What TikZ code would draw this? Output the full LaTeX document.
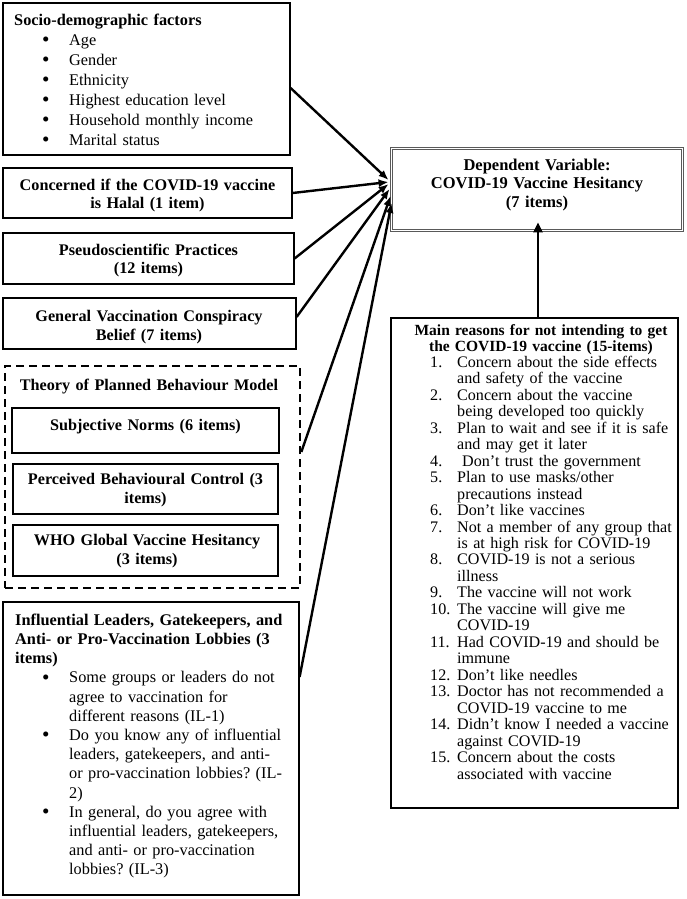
\documentclass[tikz,border=0pt]{standalone}
\usepackage{fontspec}
\usepackage{graphicx}
\setmainfont{Liberation Serif}
\usetikzlibrary{arrows.meta,calc}
\lineskiplimit=-30pt
\frenchspacing
\newcommand\fst{\rule{0pt}{13pt}}
\newcommand\bdot{\raisebox{-1.4pt}{\scalebox{1.3}{•}}}
\newcommand\bl{\makebox[55pt][l]{\hspace{28pt}\bdot}}
\newcommand\bli{\makebox[54pt][l]{\hspace{27pt}\bdot}}
\newcommand\blc{\makebox[54pt][l]{}}
\newcommand\nm[1]{\makebox[27pt][l]{#1}}
\newcommand\nc{\makebox[27pt][l]{}}
\begin{document}
\begin{tikzpicture}[x=1pt,y=-1pt,
 box/.style={draw, line width=1.2pt, inner sep=0pt},
 ctxt/.style={inner sep=0pt, anchor=north, align=center, text width=290pt},
 ltxt/.style={inner sep=0pt, anchor=north west, align=left, text width=285pt},
 link/.style={line width=2.4pt, -{Latex[length=10pt,width=8pt]}},
]
\useasboundingbox[fill=white] (0,0) rectangle (686,899);

% boxes
\node[box, minimum width=287pt, minimum height=152pt] (socio) at (146.5,79) {};
\node[box, minimum width=289pt, minimum height=50pt] (halal) at (147.5,193) {};
\node[box, minimum width=291pt, minimum height=51pt] (pseudo) at (148.5,258.5) {};
\node[box, minimum width=293pt, minimum height=51pt] (general) at (149.5,323.5) {};
\node[draw, line width=2.6pt, dash pattern=on 8pt off 5pt, inner sep=0pt, minimum width=295pt, minimum height=222pt] (tpb) at (152.5,477) {};
\node[box, minimum width=267pt, minimum height=45pt] (subj) at (145.5,430.5) {};
\node[box, minimum width=265pt, minimum height=50pt] (perc) at (145.5,489) {};
\node[box, minimum width=265pt, minimum height=51pt] (who) at (145.5,550.5) {};
\node[box, minimum width=296pt, minimum height=293pt] (infl) at (151,748.5) {};
\node[box, minimum width=287pt, minimum height=490pt] (main) at (534.5,563) {};
\node[draw=black!65, line width=0.9pt, double=white, double distance=1.4pt, inner sep=0pt, minimum width=291pt, minimum height=82pt] (dep) at (537,189.5) {};

% texts
\node[ltxt, font=\fontsize{16.3}{20}\selectfont] (sociot) at (14,12) {\fst\textbf{Socio-demographic factors}\\
\bl Age\\ \bl Gender\\ \bl Ethnicity\\ \bl Highest education level\\ \bl Household monthly income\\ \bl Marital status};
\node[ctxt, font=\fontsize{16.2}{18}\selectfont\bfseries] (halalt) at (147.5,177) {\fst Concerned if the COVID-19 vaccine\\ is Halal (1 item)};
\node[ctxt, font=\fontsize{16.2}{18}\selectfont\bfseries] (pseudot) at (148.5,242) {\fst Pseudoscientific Practices\\ (12 items)};
\node[ctxt, font=\fontsize{16.2}{19}\selectfont\bfseries] (generalt) at (149,308) {\fst General Vaccination Conspiracy\\ Belief (7 items)};
\node[ctxt, font=\fontsize{16.2}{19}\selectfont\bfseries] (tpbt) at (149,377) {\fst Theory of Planned Behaviour Model};
\node[ctxt, font=\fontsize{16.2}{19}\selectfont\bfseries] (subjt) at (145.5,417) {\fst Subjective Norms (6 items)};
\node[ctxt, font=\fontsize{16.2}{19}\selectfont\bfseries] (perct) at (145.5,471) {\fst Perceived Behavioural Control (3\\ items)};
\node[ctxt, font=\fontsize{16.2}{19}\selectfont\bfseries] (whot) at (147,532) {\fst WHO Global Vaccine Hesitancy\\ (3 items)};
\node[ltxt, font=\fontsize{16.3}{19.2}\selectfont] (inflt) at (15,612) {\fst\textbf{Influential Leaders, Gatekeepers, and}\\
\textbf{Anti- or Pro-Vaccination Lobbies (3}\\ \textbf{items)}\\
\bli Some groups or leaders do not\\ \blc agree to vaccination for\\ \blc different reasons (IL-1)\\
\bli Do you know any of influential\\ \blc leaders, gatekeepers, and anti-\\ \blc or pro-vaccination lobbies? (IL-\\ \blc 2)\\
\bli In general, do you agree with\\ \blc influential leaders, gatekeepers,\\ \blc and anti- or pro-vaccination\\ \blc lobbies? (IL-3)};
\node[ctxt, font=\fontsize{16.5}{18.5}\selectfont\bfseries] (dept) at (537,157) {\fst Dependent Variable:\\ COVID-19 Vaccine Hesitancy\\ (7 items)};
\node[ctxt, font=\fontsize{15.5}{16.5}\selectfont\bfseries] (maint) at (541,322) {\fst Main reasons for not intending to get\\ the COVID-19 vaccine (15-items)};
\node[ltxt, text width=250pt, font=\fontsize{16.1}{16.48}\selectfont] (mainl) at (430,354) {\fst
\nm{1.}Concern about the side effects\\ \nc and safety of the vaccine\\
\nm{2.}Concern about the vaccine\\ \nc being developed too quickly\\
\nm{3.}Plan to wait and see if it is safe\\ \nc and may get it later\\
\nm{4.}\hspace*{5pt}Don’t trust the government\\
\nm{5.}Plan to use masks/other\\ \nc precautions instead\\
\nm{6.}Don’t like vaccines\\
\nm{7.}Not a member of any group that\\ \nc is at high risk for COVID-19\\
\nm{8.}COVID-19 is not a serious\\ \nc illness\\
\nm{9.}The vaccine will not work\\
\nm{10.}The vaccine will give me\\ \nc COVID-19\\
\nm{11.}Had COVID-19 and should be\\ \nc immune\\
\nm{12.}Don’t like needles\\
\nm{13.}Doctor has not recommended a\\ \nc COVID-19 vaccine to me\\
\nm{14.}Didn’t know I needed a vaccine\\ \nc against COVID-19\\
\nm{15.}Concern about the costs\\ \nc associated with vaccine};

% connectors
\draw[link] ($(socio.east)+(0,9)$) -- ($(dep.west)+(-2.5,-9.5)$);
\draw[link] (halal.east) -- ($(dep.west)+(-2.5,-7.5)$);
\draw[link] (pseudo.east) -- ($(dep.west)+(-2.5,-5.5)$);
\draw[link] ($(general.east)+(0,-6.5)$) -- ($(dep.west)+(-1.5,-0.5)$);
\draw[link] ($(tpb.east)+(0,-25)$) -- ($(dep.west)+(-0.5,6.5)$);
\draw[link] ($(infl.east)+(0,-71.5)$) -- ($(dep.west)+(0.5,13.5)$);
\draw[line width=2.4pt, -{Triangle[length=10pt,width=9pt]}] ($(main.north)+(3.5,0)$) -- ($(dep.south)+(1,-8.5)$);
\end{tikzpicture}
\end{document}
